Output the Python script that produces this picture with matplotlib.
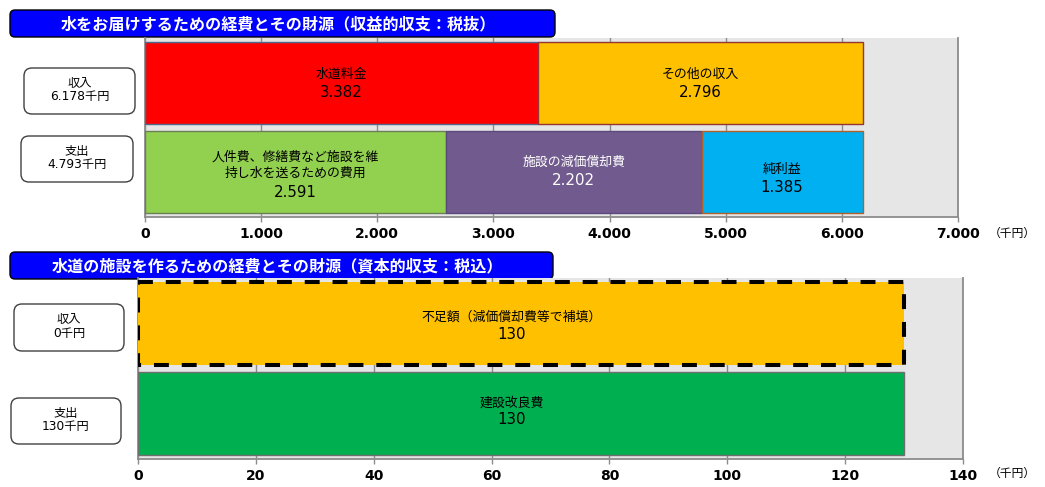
import matplotlib
matplotlib.use('Agg')
import matplotlib.pyplot as plt
from matplotlib.patches import FancyBboxPatch

plt.rcParams['font.family'] = ['Noto Sans CJK JP', 'DejaVu Sans']

# ---------------- data ----------------
top_title = '水をお届けするための経費とその財源（収益的収支：税抜）'
top_row_boxes = ['収入\n6.178千円', '支出\n4.793千円']
top_income_names = ['水道料金', 'その他の収入']
top_income_values = [3382, 2796]
top_expense_names = ['人件費、修繕費など施設を維\n持し水を送るための費用', '施設の減価償却費', '純利益']
top_expense_values = [2591, 2202, 1385]
top_ticks = [0, 1000, 2000, 3000, 4000, 5000, 6000, 7000]
top_tick_labels = ['0', '1.000', '2.000', '3.000', '4.000', '5.000', '6.000', '7.000']

bot_title = '水道の施設を作るための経費とその財源（資本的収支：税込）'
bot_row_boxes = ['収入\n0千円', '支出\n130千円']
bot_income_names = ['不足額（減価償却費等で補填）']
bot_income_values = [130]
bot_expense_names = ['建設改良費']
bot_expense_values = [130]
bot_ticks = [0, 20, 40, 60, 80, 100, 120, 140]
bot_tick_labels = ['0', '20', '40', '60', '80', '100', '120', '140']

unit_label = '（千円）'

# ---------------- style ----------------
W, H = 1045, 487
fig = plt.figure(figsize=(W / 100, H / 100), dpi=100)

ov = fig.add_axes([0, 0, 1, 1])
ov.set_xlim(0, W)
ov.set_ylim(H, 0)
ov.axis('off')

GRID = '#8C8C8C'
BG = '#E6E6E6'


def fmt(v):
    return f'{v:,}'.replace(',', '.')


def title_box(x0, y0, x1, y1, text):
    ov.add_patch(FancyBboxPatch((x0, y0), x1 - x0, y1 - y0,
                                boxstyle='round,pad=0,rounding_size=5',
                                fc='#0000FF', ec='#000000', lw=1.0))
    ov.text((x0 + x1) / 2 - 4, (y0 + y1) / 2 + 0.5, text, color='white',
            fontsize=11.6, fontweight='bold', ha='center', va='center')


def row_box(x0, y0, x1, y1, text):
    ov.add_patch(FancyBboxPatch((x0, y0), x1 - x0, y1 - y0,
                                boxstyle='round,pad=0,rounding_size=8',
                                fc='white', ec='#404040', lw=1.0))
    ov.text((x0 + x1) / 2, (y0 + y1) / 2 - 1, text, color='black',
            fontsize=8.8, ha='center', va='center', linespacing=1.0,
            family=['DejaVu Sans', 'Noto Sans CJK JP'])


def setup_axes(rect, ticks, ticklabels):
    ax = fig.add_axes(rect)
    ax.set_facecolor(BG)
    ax.set_xlim(ticks[0], ticks[-1])
    ax.set_ylim(1.5, -0.5)
    ax.set_yticks([])
    ax.set_xticks(ticks)
    ax.set_xticklabels(ticklabels, fontsize=10, fontweight='bold',
                       family='DejaVu Sans')
    ax.tick_params(axis='x', direction='out', length=3.5, width=1,
                   color=GRID, pad=4)
    ax.grid(axis='x', color=GRID, lw=1.0, zorder=1)
    ax.set_axisbelow(True)
    ax.spines['top'].set_visible(False)
    for s in ('left', 'right', 'bottom'):
        ax.spines[s].set_color(GRID)
        ax.spines[s].set_linewidth(1.3)
    return ax


def draw_row(ax, y, names, values, fcs, ecs, tcs, offs, dashed=False, dx=0):
    left = 0
    for name, v, fc, ec, tc, (dl, dv) in zip(names, values, fcs, ecs, tcs, offs):
        if dashed:
            ax.barh(y, v, left=left, height=0.915, color=fc, edgecolor=ec,
                    lw=2.9, linestyle=(0, (3.7, 3.2)), zorder=3)
        else:
            ax.barh(y, v, left=left, height=0.915, color=fc, edgecolor=ec,
                    lw=1.0, zorder=3)
        cx = left + v / 2
        ax.annotate(name, (cx, y), xytext=(dx, dl), textcoords='offset pixels',
                    ha='center', va='center', fontsize=9.3, color=tc,
                    linespacing=1.3, zorder=4)
        ax.annotate(fmt(v), (cx, y), xytext=(dx, dv), textcoords='offset pixels',
                    ha='center', va='center', fontsize=10.8, color=tc,
                    family='DejaVu Sans', zorder=4)
        left += v


# ---------------- top chart ----------------
title_box(10, 10, 555, 37, top_title)
row_box(24, 68, 135, 114, top_row_boxes[0])
row_box(21, 136, 133, 182, top_row_boxes[1])

ax1 = setup_axes([145 / W, 1 - 217 / H, (958 - 145) / W, (217 - 38) / H],
                 top_ticks, top_tick_labels)
draw_row(ax1, 0, top_income_names, top_income_values,
         ['#FF0000', '#FFC000'], ['#4F6A8F', '#943634'], ['black', 'black'],
         [(8, -10), (8, -10)])
draw_row(ax1, 1, top_expense_names, top_expense_values,
         ['#92D050', '#715A8E', '#00B0F0'], ['#6B7F55', '#5B4A7D', '#B0602A'],
         ['black', 'white', 'black'],
         [(7, -20), (10, -8), (3, -15)])
ov.text(1012, 233, unit_label, fontsize=8.5, ha='center', va='center')

# ---------------- bottom chart ----------------
title_box(10, 252, 553, 279, bot_title)
row_box(14, 304, 124, 351, bot_row_boxes[0])
row_box(11, 398, 121, 444, bot_row_boxes[1])

ax2 = setup_axes([138 / W, 1 - 459 / H, (963 - 138) / W, (459 - 278) / H],
                 bot_ticks, bot_tick_labels)
draw_row(ax2, 0, bot_income_names, bot_income_values,
         ['#FFC000'], ['#000000'], ['black'], [(6.5, -11.5)], dashed=True, dx=-9)
draw_row(ax2, 1, bot_expense_names, bot_expense_values,
         ['#00B050'], ['#6E6E6E'], ['black'], [(11, -6)], dx=-9)
ov.text(1012, 473, unit_label, fontsize=8.5, ha='center', va='center')

fig.savefig('out.png', dpi=100)
